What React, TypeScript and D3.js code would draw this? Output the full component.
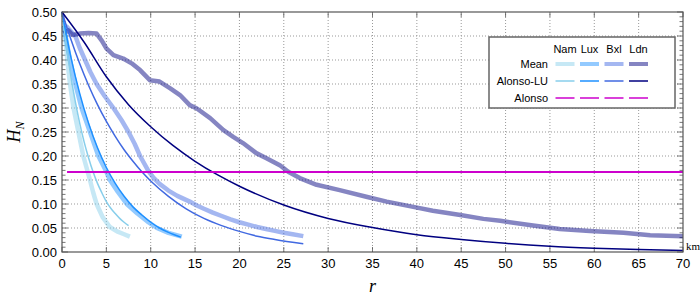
import * as d3 from "d3";
import React, { useEffect, useRef } from "react";

// distance r (km) and H_N readings for each curve
const cities = ["Nam", "Lux", "Bxl", "Ldn"];
const cityColors = ["#87ceeb", "#1e90ff", "#4169e1", "#000080"];

const meanNamR = [0.2, 0.4, 0.6, 0.9, 1.3, 1.85, 2.4, 2.9, 3.15, 3.5, 3.9, 4.6, 5.4, 6.2, 7.0, 7.65];
const meanNamH = [0.47, 0.44, 0.4, 0.35, 0.3, 0.25, 0.2, 0.167, 0.15, 0.125, 0.1, 0.072, 0.052, 0.043, 0.037, 0.032];

const meanLuxR = [0.2, 0.5, 0.9, 1.5, 2.2, 3.15, 4.1, 5.0, 5.4, 6.3, 7.3, 8.5, 9.6, 10.7, 12, 13.5];
const meanLuxH = [0.47, 0.44, 0.4, 0.35, 0.3, 0.25, 0.2, 0.167, 0.15, 0.125, 0.1, 0.08, 0.064, 0.05, 0.04, 0.032];

const meanBxlR = [0.2, 0.5, 1, 1.5, 2, 2.6, 3.2, 3.9, 4.8, 5.8, 6.7, 7.5, 8.2, 8.8, 9.7, 10.3, 11, 12, 13, 14.4, 15.2, 16, 17, 18, 19, 20, 21, 22, 23, 24, 25, 26, 27.2];
const meanBxlH = [0.47, 0.47, 0.46, 0.45, 0.425, 0.4, 0.375, 0.35, 0.325, 0.3, 0.275, 0.25, 0.225, 0.2, 0.17, 0.155, 0.142, 0.128, 0.117, 0.105, 0.097, 0.09, 0.082, 0.075, 0.068, 0.062, 0.057, 0.052, 0.048, 0.044, 0.04, 0.037, 0.033];

const meanLdnR = [0.2, 0.7, 1.2, 2, 3, 3.9, 4.5, 5.0, 5.8, 6.9, 7.85, 8.8, 9.9, 11, 12.2, 13.3, 14.4, 15.2, 16.7, 18.2, 19.3, 20.4, 21.9, 23.1, 24.6, 25.5, 26.8, 28.7, 31.3, 34.3, 36.6, 39.6, 41.8, 44.9, 47.5, 49.4, 53.1, 56.1, 59.5, 63.3, 66.3, 70];
const meanLdnH = [0.455, 0.462, 0.452, 0.455, 0.456, 0.455, 0.44, 0.424, 0.41, 0.403, 0.393, 0.379, 0.358, 0.355, 0.341, 0.327, 0.306, 0.299, 0.279, 0.254, 0.24, 0.227, 0.206, 0.195, 0.18, 0.167, 0.154, 0.14, 0.129, 0.115, 0.105, 0.094, 0.086, 0.077, 0.069, 0.065, 0.055, 0.048, 0.044, 0.04, 0.035, 0.033];

const luNamR = [0, 0.5, 1, 1.5, 2, 2.5, 3, 3.5, 4, 4.5, 5, 5.5, 6, 6.5, 7, 7.5];
const luNamH = [0.5, 0.428, 0.366, 0.313, 0.268, 0.229, 0.196, 0.167, 0.143, 0.123, 0.105, 0.091, 0.08, 0.07, 0.062, 0.055];

const luLuxR = [0, 1, 2, 3, 4, 5, 6, 7, 8, 9, 10, 11, 12, 13.4];
const luLuxH = [0.5, 0.406, 0.33, 0.268, 0.217, 0.176, 0.143, 0.116, 0.094, 0.077, 0.062, 0.05, 0.041, 0.031];

const luBxlR = [0, 1, 2, 3, 4, 5, 6, 7, 8, 9, 10, 12, 14, 16, 18, 20, 22, 24, 27.2];
const luBxlH = [0.5, 0.443, 0.392, 0.347, 0.307, 0.272, 0.241, 0.213, 0.189, 0.167, 0.148, 0.116, 0.09, 0.07, 0.055, 0.043, 0.033, 0.026, 0.017];

const luLdnR = [0, 2.5, 5, 7.5, 10, 12.5, 15, 17.5, 20, 25, 30, 35, 40, 45, 50, 55, 60, 65, 70];
const luLdnH = [0.5, 0.437, 0.365, 0.307, 0.261, 0.222, 0.189, 0.161, 0.137, 0.098, 0.07, 0.051, 0.036, 0.026, 0.018, 0.012, 0.008, 0.005, 0.003];

const alonsoR = [0.6, 70];
const alonsoH = [1 / 6, 1 / 6];

const meanSeries = [
  [meanNamR, meanNamH],
  [meanLuxR, meanLuxH],
  [meanBxlR, meanBxlH],
  [meanLdnR, meanLdnH],
];
const luSeries = [
  [luNamR, luNamH],
  [luLuxR, luLuxH],
  [luBxlR, luBxlH],
  [luLdnR, luLdnH],
];

const xTicks = d3.range(0, 71, 5);
const yTicks = d3.range(0, 0.501, 0.05);
const yMinor = d3.range(0, 0.501, 0.01);

const W = 700;
const H = 298;
const margin = { left: 62, right: 17, top: 12, bottom: 46 };

const App: React.FC = () => {
  const ref = useRef<SVGSVGElement>(null);

  useEffect(() => {
    document.body.style.margin = "0";
    if (!ref.current) return;
    const svg = d3.select(ref.current);
    svg.selectAll("*").remove();

    const x = d3.scaleLinear().domain([0, 70]).range([margin.left, W - margin.right]);
    const y = d3.scaleLinear().domain([0, 0.5]).range([H - margin.bottom, margin.top]);
    const [x0, x1] = x.range();
    const [y0, y1] = y.range();
    const sans = "'Liberation Sans', Arial, sans-serif";
    const serif = "'Liberation Serif', 'DejaVu Serif', serif";

    // grid
    const grid = svg.append("g").attr("stroke", "#999").attr("stroke-dasharray", "1,2");
    xTicks.slice(1, -1).forEach((t) => {
      grid.append("line").attr("x1", x(t)).attr("x2", x(t)).attr("y1", y0).attr("y2", y1);
    });
    yTicks.slice(1, -1).forEach((t) => {
      grid.append("line").attr("x1", x0).attr("x2", x1).attr("y1", y(t)).attr("y2", y(t));
    });

    // ticks (inward, mirrored)
    const ticks = svg.append("g").attr("stroke", "#555").attr("stroke-width", 0.8);
    yMinor.forEach((t, i) => {
      const len = i % 5 === 0 ? 6 : 3.5;
      ticks.append("line").attr("x1", x0).attr("x2", x0 + len).attr("y1", y(t)).attr("y2", y(t));
      ticks.append("line").attr("x1", x1).attr("x2", x1 - len).attr("y1", y(t)).attr("y2", y(t));
    });
    xTicks.forEach((t) => {
      ticks.append("line").attr("x1", x(t)).attr("x2", x(t)).attr("y1", y0).attr("y2", y0 - 5);
      ticks.append("line").attr("x1", x(t)).attr("x2", x(t)).attr("y1", y1).attr("y2", y1 + 5);
    });

    const line = d3
      .line<[number, number]>()
      .x((d) => x(d[0]))
      .y((d) => y(d[1]));

    const plot = svg.append("g");
    // mean curves: thick, translucent
    meanSeries.forEach(([rs, hs], i) => {
      plot
        .append("path")
        .attr("d", line(rs.map((r, k) => [r, hs[k]]))!)
        .attr("fill", "none")
        .attr("stroke", cityColors[i])
        .attr("stroke-opacity", 0.48)
        .attr("stroke-width", 4.5)
        .attr("stroke-linejoin", "round");
    });
    // Alonso-LU curves
    const smooth = d3
      .line<[number, number]>()
      .x((d) => x(d[0]))
      .y((d) => y(d[1]))
      .curve(d3.curveMonotoneX);
    luSeries.forEach(([rs, hs], i) => {
      plot
        .append("path")
        .attr("d", smooth(rs.map((r, k) => [r, hs[k]]))!)
        .attr("fill", "none")
        .attr("stroke", cityColors[i])
        .attr("stroke-width", 1.5);
    });
    // Alonso (same for all cities)
    cities.forEach(() => {
      plot
        .append("path")
        .attr("d", line(alonsoR.map((r, k) => [r, alonsoH[k]]))!)
        .attr("fill", "none")
        .attr("stroke", "#cc00cc")
        .attr("stroke-width", 1.5);
    });

    // frame
    svg
      .append("rect")
      .attr("x", x0)
      .attr("y", y1)
      .attr("width", x1 - x0)
      .attr("height", y0 - y1)
      .attr("fill", "none")
      .attr("stroke", "#555")
      .attr("stroke-width", 1.2);

    // tick labels
    svg
      .append("g")
      .selectAll("text")
      .data(yTicks)
      .enter()
      .append("text")
      .attr("x", x0 - 5)
      .attr("y", (d) => y(d))
      .attr("dy", "0.36em")
      .attr("text-anchor", "end")
      .attr("font-family", sans)
      .attr("font-size", 13)
      .text((d) => d.toFixed(2));
    svg
      .append("g")
      .selectAll("text")
      .data(xTicks)
      .enter()
      .append("text")
      .attr("x", (d) => x(d))
      .attr("y", y0 + 16)
      .attr("text-anchor", "middle")
      .attr("font-family", sans)
      .attr("font-size", 13)
      .text((d) => String(d));

    svg
      .append("text")
      .attr("x", x1 + 3)
      .attr("y", y0 - 2)
      .attr("font-family", serif)
      .attr("font-size", 11)
      .text("km");

    // axis titles
    svg
      .append("text")
      .attr("x", (x0 + x1) / 2)
      .attr("y", 292)
      .attr("text-anchor", "middle")
      .attr("font-family", serif)
      .attr("font-style", "italic")
      .attr("font-size", 18)
      .text("r");
    const yl = svg
      .append("text")
      .attr("transform", `translate(20, ${(y0 + y1) / 2}) rotate(-90)`)
      .attr("text-anchor", "middle")
      .attr("font-family", serif)
      .attr("font-style", "italic")
      .attr("font-size", 18);
    yl.append("tspan").text("H");
    yl.append("tspan").attr("font-size", 12).attr("dy", 4).text("N");

    // legend
    const lg = svg.append("g");
    lg.append("rect")
      .attr("x", 489)
      .attr("y", 37)
      .attr("width", 186)
      .attr("height", 71)
      .attr("fill", "white")
      .attr("stroke", "#666")
      .attr("stroke-width", 1.5);
    const colX = (i: number) => 565 + i * 24.5;
    cities.forEach((c, i) => {
      lg.append("text")
        .attr("x", colX(i))
        .attr("y", 53)
        .attr("text-anchor", "middle")
        .attr("font-family", sans)
        .attr("font-size", 11)
        .text(c);
    });
    const rows = ["Mean", "Alonso-LU", "Alonso"];
    rows.forEach((label, j) => {
      const ry = 64 + j * 17;
      lg.append("text")
        .attr("x", 548)
        .attr("y", ry)
        .attr("dy", "0.36em")
        .attr("text-anchor", "end")
        .attr("font-family", sans)
        .attr("font-size", 11)
        .text(label);
      cities.forEach((_, i) => {
        lg.append("line")
          .attr("x1", colX(i) - 9.5)
          .attr("x2", colX(i) + 9.5)
          .attr("y1", ry)
          .attr("y2", ry)
          .attr("stroke", j === 2 ? "#cc00cc" : cityColors[i])
          .attr("stroke-opacity", j === 0 ? 0.48 : 1)
          .attr("stroke-width", j === 0 ? 4 : 1.5);
      });
    });
  }, []);

  return <svg ref={ref} width={W} height={H} style={{ display: "block" }}></svg>;
};

export default App;
